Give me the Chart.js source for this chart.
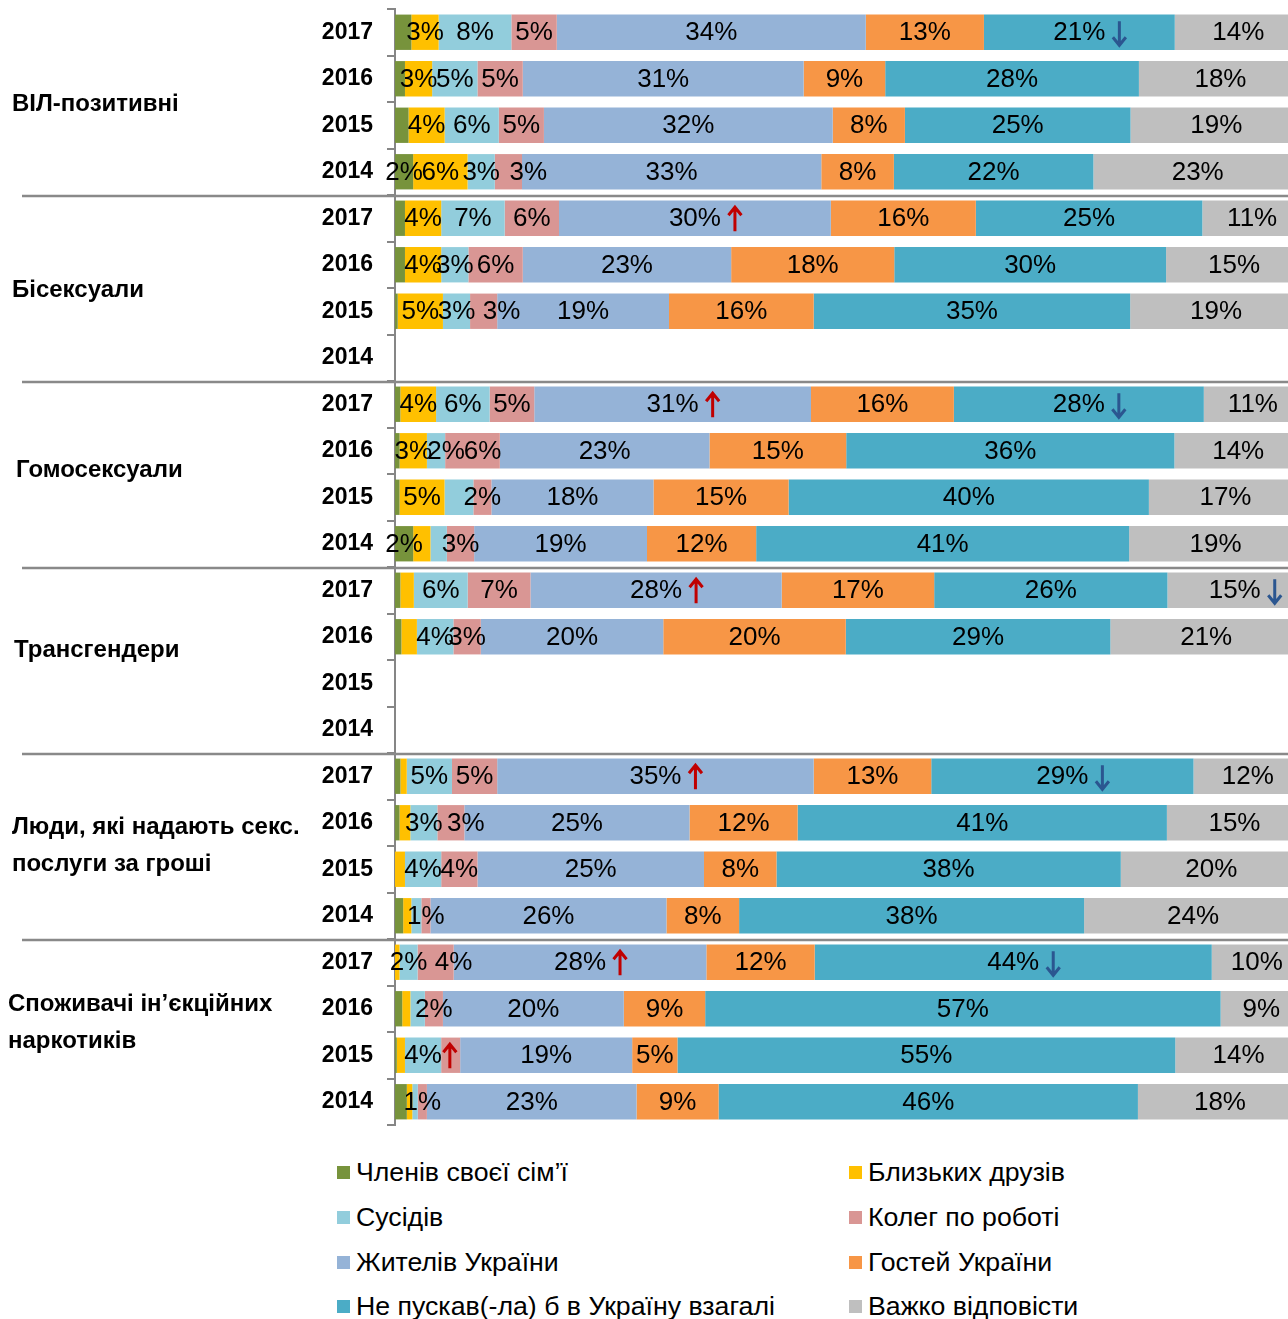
<!DOCTYPE html>
<html>
<head>
<meta charset="utf-8">
<script src="https://cdn.jsdelivr.net/npm/chart.js@4.4.1/dist/chart.umd.min.js"></script>
<style>
  html, body { margin: 0; padding: 0; overflow: hidden; background: #fff; }
  #wrap { position: relative; width: 1302px; height: 1140px; }
  #legend { position: absolute; left: 0; top: 0; width: 1288px; }
  .item { position: absolute; height: 30px; display: flex; align-items: center;
          font: 26.7px "Liberation Sans", Arial, sans-serif; color: #000; white-space: nowrap; }
  .item span.box { width: 13px; height: 13px; margin-right: 6px; display: inline-block; }
</style>
</head>
<body>
<div id="wrap"><canvas id="chart"></canvas></div>
<div id="legend"></div>
<script>
// Groups (two-line names are split), years shown for every group
const groups = [
  "ВІЛ-позитивні",
  "Бісексуали",
  "Гомосексуали",
  "Трансгендери",
  ["Люди, які надають секс.", "послуги за гроші"],
  ["Споживачі ін’єкційних", "наркотиків"]
];
const years = ["2017", "2016", "2015", "2014"];

// Shares in %, one entry per row (group x year). Whole numbers are the printed
// values; small unlabelled slices are estimates and kept with a decimal.
const family      = [1.8, 1.1, 1.5, 2, 1.1, 1.1, 0.3, null, 0.6, 0.5, 0.5, 2, 0.6, 0.7, null, null, 0.6, 0.5, 0, 0.9, 0, 0.8, 0.2, 1.3];
const friends     = [3, 3, 4, 6, 4, 4, 5, null, 4, 3, 5, 1.9, 1.5, 1.7, null, null, 0.7, 1.2, 1.1, 0.9, 0.5, 0.9, 0.9, 0.6];
const neighbours  = [8, 5, 6, 3, 7, 3, 3, null, 6, 2, 3.2, 1.8, 6, 4, null, null, 5, 3, 4, 1.1, 2, 1.6, 4, 0.6];
const colleagues  = [5, 5, 5, 3, 6, 6, 3, null, 5, 6, 2, 3, 7, 3, null, null, 5, 3, 4, 1, 4, 2, 2.1, 1];
const residents   = [34, 31, 32, 33, 30, 23, 19, null, 31, 23, 18, 19, 28, 20, null, null, 35, 25, 25, 26, 28, 20, 19, 23];
const guests      = [13, 9, 8, 8, 16, 18, 16, null, 16, 15, 15, 12, 17, 20, null, null, 13, 12, 8, 8, 12, 9, 5, 9];
const notAllowed  = [21, 28, 25, 22, 25, 30, 35, null, 28, 36, 40, 41, 26, 29, null, null, 29, 41, 38, 38, 44, 57, 55, 46];
const hardToSay   = [14, 18, 19, 23, 11, 15, 19, null, 11, 14, 17, 19, 15, 21, null, null, 12, 15, 20, 24, 10, 9, 14, 18];

const seriesNames = [
  "Членів своєї сім’ї", "Близьких друзів", "Сусідів", "Колег по роботі",
  "Жителів України", "Гостей України", "Не пускав(-ла) б в Україну взагалі", "Важко відповісти"
];
const seriesKeys = ["family", "friends", "neighbours", "colleagues", "residents", "guests", "notAllowed", "hardToSay"];
const seriesColors = ["#77933C", "#FFC000", "#92CDDC", "#D99694", "#95B3D7", "#F79646", "#4BACC6", "#BFBFBF"];
const seriesData = [family, friends, neighbours, colleagues, residents, guests, notAllowed, hardToSay];

// Change markers after a label: row index + series
const arrows = [
  { series: "notAllowed", row: 0, dir: "down" },
  { series: "residents", row: 4, dir: "up" },
  { series: "residents", row: 8, dir: "up" },
  { series: "notAllowed", row: 8, dir: "down" },
  { series: "residents", row: 12, dir: "up" },
  { series: "hardToSay", row: 12, dir: "down" },
  { series: "residents", row: 16, dir: "up" },
  { series: "notAllowed", row: 16, dir: "down" },
  { series: "residents", row: 20, dir: "up" },
  { series: "notAllowed", row: 20, dir: "down" },
  { series: "neighbours", row: 22, dir: "up", dx: -6 }
];

// Labels moved sideways so they don't sit on top of their neighbours
const labelNudges = [
  { series: "colleagues", row: 3, dx: 20 },
  { series: "colleagues", row: 6, dx: 18 },
  { series: "neighbours", row: 9, dx: 10 },
  { series: "colleagues", row: 9, dx: 10 },
  { series: "colleagues", row: 17, dx: 15 },
  { series: "colleagues", row: 20, dx: 18 }
];

const rowLabels = [];
groups.forEach(() => years.forEach(y => rowLabels.push(y)));

// every row is drawn as a 100% bar
const rowTotals = rowLabels.map((_, i) => seriesData.reduce((s, arr) => s + (arr[i] || 0), 0));

// x offset and y nudge for each group name
const groupLabelPos = [[12, 2], [12, 2], [16, -4], [14, -10], [12, 0], [8, -9]];

const FONT = '"Liberation Sans", Arial, sans-serif';

function drawArrow(ctx, x, y, dir) {
  const h = 12;
  const s = dir === "up" ? -1 : 1;
  ctx.save();
  ctx.strokeStyle = dir === "up" ? "#C00000" : "#2B5690";
  ctx.lineWidth = 3;
  ctx.beginPath();
  ctx.moveTo(x, y - s * h);
  ctx.lineTo(x, y + s * h);
  ctx.moveTo(x - 6.5, y + s * (h - 8));
  ctx.lineTo(x, y + s * h);
  ctx.lineTo(x + 6.5, y + s * (h - 8));
  ctx.stroke();
  ctx.restore();
}

// Percent labels in the middle of each slice
const barLabels = {
  id: "barLabels",
  afterDatasetsDraw(chart) {
    const ctx = chart.ctx;
    ctx.save();
    ctx.font = "26px " + FONT;
    ctx.fillStyle = "#000";
    ctx.textAlign = "center";
    ctx.textBaseline = "middle";
    chart.data.datasets.forEach((ds, di) => {
      const meta = chart.getDatasetMeta(di);
      meta.data.forEach((bar, i) => {
        const v = ds.raw[i];
        if (v == null || !Number.isInteger(v) || v <= 0) return;
        const { x, base, y } = bar.getProps(["x", "base", "y"], true);
        const nudge = labelNudges.find(n => n.series === ds.key && n.row === i);
        const cx = (x + base) / 2 + (nudge ? nudge.dx : 0);
        const text = v + "%";
        ctx.fillText(text, cx, y + 1);
        const mark = arrows.find(a => a.series === ds.key && a.row === i);
        if (mark) {
          drawArrow(ctx, cx + ctx.measureText(text).width / 2 + 14 + (mark.dx || 0), y + 1, mark.dir);
        }
      });
    });
    ctx.restore();
  }
};

// Group separators and group names on the left
const groupFrame = {
  id: "groupFrame",
  afterDraw(chart) {
    const { ctx, scales: { y } } = chart;
    ctx.save();
    ctx.strokeStyle = "#898989";
    ctx.lineWidth = 2.5;
    for (let g = 1; g < groups.length; g++) {
      const yy = (y.getPixelForValue(g * 4 - 1) + y.getPixelForValue(g * 4)) / 2 + 1;
      ctx.beginPath();
      ctx.moveTo(22, yy);
      ctx.lineTo(chart.width, yy);
      ctx.stroke();
    }
    ctx.fillStyle = "#000";
    ctx.font = "bold 24px " + FONT;
    ctx.textAlign = "left";
    ctx.textBaseline = "middle";
    groups.forEach((name, g) => {
      const lines = Array.isArray(name) ? name : [name];
      const mid = (y.getPixelForValue(g * 4) + y.getPixelForValue(g * 4 + 3)) / 2 + groupLabelPos[g][1];
      lines.forEach((line, k) => {
        ctx.fillText(line, groupLabelPos[g][0], mid + (k - (lines.length - 1) / 2) * 37);
      });
    });
    ctx.restore();
  }
};

const datasets = seriesData.map((data, i) => ({
  key: seriesKeys[i],
  label: seriesNames[i],
  raw: data,
  data: data.map((v, r) => (v == null ? null : v / rowTotals[r] * 100)),
  backgroundColor: seriesColors[i],
  borderWidth: 0,
  categoryPercentage: 1,
  barPercentage: 0.76
}));

new Chart(document.getElementById("chart"), {
  type: "bar",
  data: { labels: rowLabels, datasets: datasets },
  options: {
    indexAxis: "y",
    responsive: true,
    maintainAspectRatio: false,
    animation: false,
    layout: { padding: { top: 9, bottom: 15, left: 0, right: 0 } },
    plugins: { legend: { display: false }, tooltip: { enabled: false } },
    scales: {
      x: { stacked: true, min: 0, max: 100, display: false },
      y: {
        stacked: true,
        afterFit(scale) {
          scale.width = 395;
          scale.paddingTop = 0;
          scale.paddingBottom = 0;
        },
        border: { color: "#868686", width: 2 },
        grid: { drawOnChartArea: false, tickLength: 8, color: "#868686", lineWidth: 2 },
        ticks: {
          autoSkip: false,
          padding: 14,
          color: "#000",
          font: { family: FONT, size: 23, weight: "bold" }
        }
      }
    }
  },
  plugins: [barLabels, groupFrame]
});

// Two-column legend under the plot
const legend = document.getElementById("legend");
const colX = [337, 849];
const rowY = [1172, 1217, 1262, 1306];
seriesNames.forEach((name, i) => {
  const item = document.createElement("div");
  item.className = "item";
  item.style.left = colX[i % 2] + "px";
  item.style.top = (rowY[Math.floor(i / 2)] - 15) + "px";
  const box = document.createElement("span");
  box.className = "box";
  box.style.background = seriesColors[i];
  item.appendChild(box);
  item.appendChild(document.createTextNode(name));
  legend.appendChild(item);
});
</script>
</body>
</html>
